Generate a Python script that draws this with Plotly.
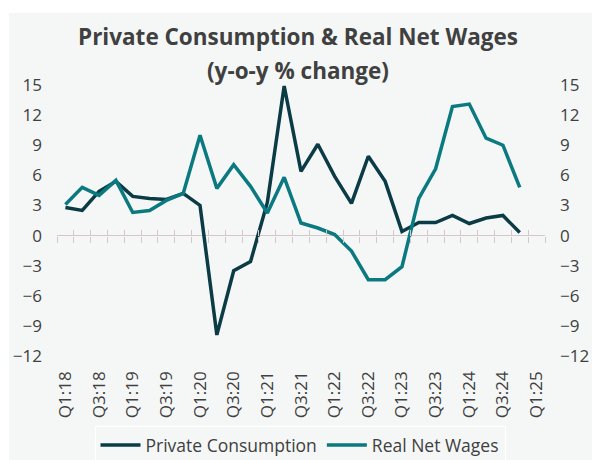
import plotly.graph_objects as go

categories = ["Q1:18", "Q2:18", "Q3:18", "Q4:18", "Q1:19", "Q2:19", "Q3:19", "Q4:19",
              "Q1:20", "Q2:20", "Q3:20", "Q4:20", "Q1:21", "Q2:21", "Q3:21", "Q4:21",
              "Q1:22", "Q2:22", "Q3:22", "Q4:22", "Q1:23", "Q2:23", "Q3:23", "Q4:23",
              "Q1:24", "Q2:24", "Q3:24", "Q4:24", "Q1:25"]
private_consumption = [2.8, 2.5, 4.4, 5.4, 3.9, 3.7, 3.6, 4.2, 3.0, -9.9, -3.5, -2.6, 3.3, 14.9,
                       6.4, 9.1, 5.9, 3.2, 7.9, 5.4, 0.4, 1.3, 1.3, 2.0, 1.2, 1.75, 2.0, 0.3, None]
real_net_wages = [3.1, 4.8, 4.0, 5.5, 2.3, 2.5, 3.5, 4.2, 10.0, 4.7, 7.05, 4.9, 2.25, 5.8,
                  1.25, 0.75, 0.1, -1.55, -4.4, -4.4, -3.1, 3.7, 6.65, 12.85, 13.1, 9.7, 9.0, 4.8, None]
y_ticks = [-12, -9, -6, -3, 0, 3, 6, 9, 12, 15]
x_tick_labels = categories[::2]

DARK = "#0b3c46"
TEAL = "#0a7a80"
BG = "#f5f7f7"
TXT = "#404040"
TICKC = "#d6c6cb"
FONT = "Open Sans"

fig = go.Figure()
fig.add_trace(go.Scatter(x=categories, y=private_consumption, mode="lines", name="Private Consumption",
                         line=dict(color=DARK, width=3.5), xaxis="x", yaxis="y"))
fig.add_trace(go.Scatter(x=categories, y=real_net_wages, mode="lines", name="Real Net Wages",
                         line=dict(color=TEAL, width=3.5), xaxis="x", yaxis="y2"))
# invisible helpers to carry the crossing tick marks on the zero line
for ax in ("x2", "x3"):
    fig.add_trace(go.Scatter(x=categories, y=[None] * len(categories), mode="lines",
                             showlegend=False, hoverinfo="skip", xaxis=ax, yaxis="y"))

W, H = 592, 460
L, R, T, B = 57, 47, 85, 104
pw, ph = W - L - R, H - T - B
zero_pos = (0 - y_ticks[0]) / (y_ticks[-1] - y_ticks[0])
title_x = (298 - L) / pw

common_y = dict(range=[y_ticks[0], y_ticks[-1]], tickvals=y_ticks, showgrid=False,
                tickfont=dict(family=FONT, size=17, color=TXT), showline=False, ticks="",
                ticklabelstandoff=14, automargin=False)
fig.update_layout(
    width=W, height=H,
    margin=dict(l=L, r=R, t=T, b=B, autoexpand=False),
    paper_bgcolor="white", plot_bgcolor=BG,
    font=dict(family=FONT, color=TXT),
    showlegend=True,
    title=dict(text="<b>Private Consumption & Real Net Wages</b>", x=title_x, xref="paper",
               xanchor="center", y=1 - 37 / H, yanchor="middle",
               font=dict(family=FONT, size=22.5, color=TXT)),
    annotations=[dict(text="<b>(y-o-y % change)</b>", xref="paper", yref="paper",
                      x=title_x, y=1 + (T - 70) / ph, xanchor="center", yanchor="middle",
                      showarrow=False, font=dict(family=FONT, size=22.5, color=TXT))],
    xaxis=dict(type="category", categoryorder="array", categoryarray=categories,
               range=[-0.5, len(categories) - 0.5], tickmode="array", tickvals=x_tick_labels,
               tickangle=-90, tickfont=dict(family=FONT, size=17, color=TXT), showgrid=False,
               showline=False, ticks="", ticklabelstandoff=11, automargin=False),
    xaxis2=dict(type="category", categoryorder="array", categoryarray=categories, matches="x",
                overlaying="x", anchor="free", position=zero_pos, side="bottom",
                tickmode="array", tickvals=categories, tickson="boundaries",
                ticks="outside", ticklen=6, tickwidth=1, tickcolor=TICKC,
                showticklabels=False, showgrid=False, showline=False, automargin=False),
    xaxis3=dict(type="category", categoryorder="array", categoryarray=categories, matches="x",
                overlaying="x", anchor="free", position=zero_pos, side="bottom",
                tickmode="array", tickvals=categories, tickson="boundaries",
                ticks="inside", ticklen=6, tickwidth=1, tickcolor=TICKC,
                showticklabels=False, showgrid=False, showline=False, automargin=False),
    yaxis=dict(**common_y, side="left", zeroline=True, zerolinecolor=TICKC, zerolinewidth=1),
    yaxis2=dict(**common_y, side="right", overlaying="y", anchor="x", zeroline=False),
    legend=dict(orientation="h", x=(300 - L) / pw, xanchor="center", y=-(426 - (H - B)) / ph,
                yanchor="top", bgcolor=BG, bordercolor="white", borderwidth=1,
                itemwidth=40, tracegroupgap=0,
                font=dict(family=FONT, size=17.5, color=TXT)),
    shapes=[dict(type="rect", xref="paper", yref="paper", layer="below",
                 x0=-(L - 9) / pw, x1=(W - L) / pw, y0=-B / ph, y1=1 + (T - 13) / ph,
                 fillcolor=BG, line=dict(width=0))],
)

fig.write_html("out.html")
